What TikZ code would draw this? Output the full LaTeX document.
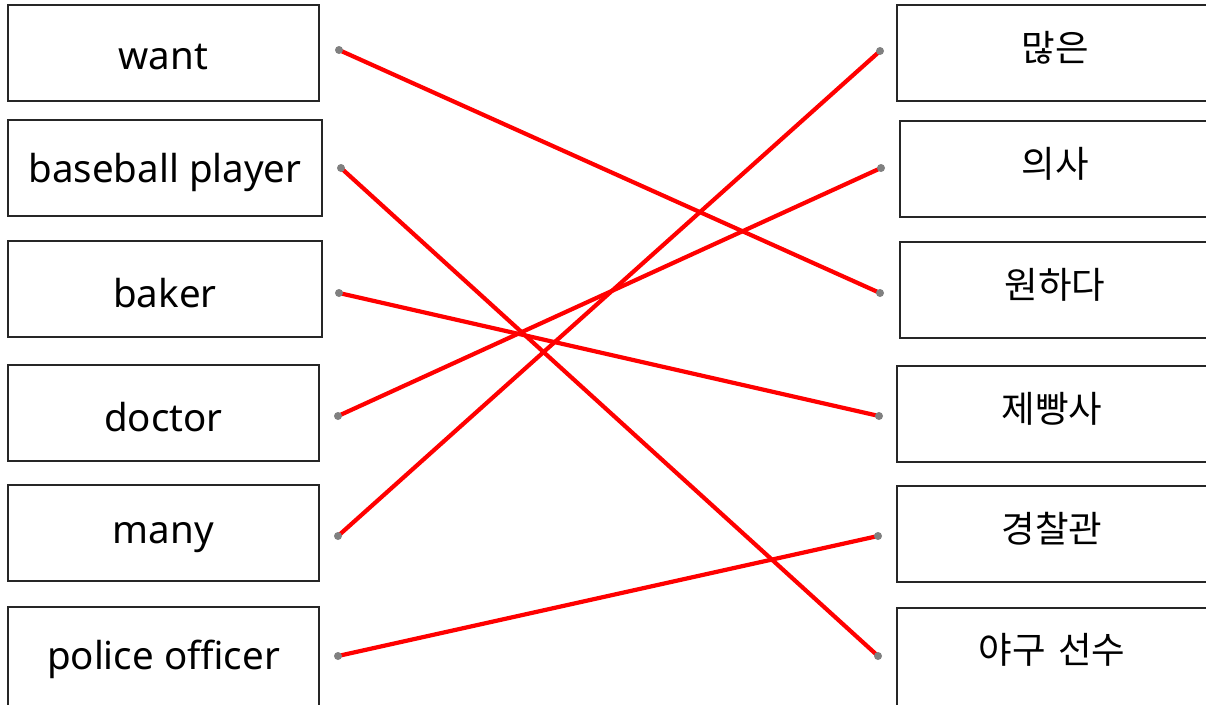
\documentclass[tikz,border=0pt]{standalone}
\usepackage{fontspec}
\setmainfont{Noto Sans}
\newfontfamily\kr{Noto Sans CJK KR}
\begin{document}
\begin{tikzpicture}[x=1pt,y=-1pt,
  box/.style={draw=black!85,line width=1.2pt,fill=white},
  en/.style={font=\fontsize{38.5}{40}\selectfont,anchor=center},
  ko/.style={font=\kr\fontsize{36.5}{38}\selectfont,anchor=center},
  dotp/.style={circle,fill=gray,inner sep=0pt,minimum size=8pt},
  link/.style={red,line width=4.2pt}]
\useasboundingbox (0,0) rectangle (1206,704);
% left boxes
\draw[box] (8,5) rectangle (319,101);
\draw[box] (8,120) rectangle (322,216);
\draw[box] (8,241) rectangle (322,337);
\draw[box] (8,365) rectangle (319,461);
\draw[box] (8,485) rectangle (319,581);
\draw[box] (8,607) rectangle (319,708);
\node[en] (tl1) at (163.5,57) {want};
\node[en] (tl2) at (165,172) {baseball player};
\node[en] (tl3) at (165,293) {baker};
\node[en] (tl4) at (163.5,417) {doctor};
\node[en] (tl5) at (163.5,538) {many};
\node[en] (tl6) at (163.5,659) {police officer};
% right boxes
\draw[box] (897,5) rectangle (1210,101);
\draw[box] (900,121) rectangle (1210,217);
\draw[box] (900,242) rectangle (1210,338);
\draw[box] (897,366) rectangle (1210,462);
\draw[box] (897,486) rectangle (1210,582);
\draw[box] (897,608) rectangle (1210,708);
\node[ko] (tr1) at (1055,48) {많은};
\node[ko] (tr2) at (1055,164) {의사};
\node[ko] (tr3) at (1055,285) {원하다};
\node[ko] (tr4) at (1052,409) {제빵사};
\node[ko] (tr5) at (1052,529) {경찰관};
\node[ko] (tr6) at (1052,650) {야구\hspace{0.35em}선수};
% endpoints
\coordinate (L1) at (339,50);
\coordinate (L2) at (341,168);
\coordinate (L3) at (339,293);
\coordinate (L4) at (338,416);
\coordinate (L5) at (338,536);
\coordinate (L6) at (338,656);
\coordinate (R1) at (880,51);
\coordinate (R2) at (881,168);
\coordinate (R3) at (880,293);
\coordinate (R4) at (879,416);
\coordinate (R5) at (878,536);
\coordinate (R6) at (878,656);
\draw[link] (L1) -- (R3);
\draw[link] (L2) -- (R6);
\draw[link] (L3) -- (R4);
\draw[link] (L4) -- (R2);
\draw[link] (L5) -- (R1);
\draw[link] (L6) -- (R5);
\foreach \p in {L1,L2,L3,L4,L5,L6,R1,R2,R3,R4,R5,R6}
  \node[dotp] at (\p) {};
\end{tikzpicture}
\end{document}
